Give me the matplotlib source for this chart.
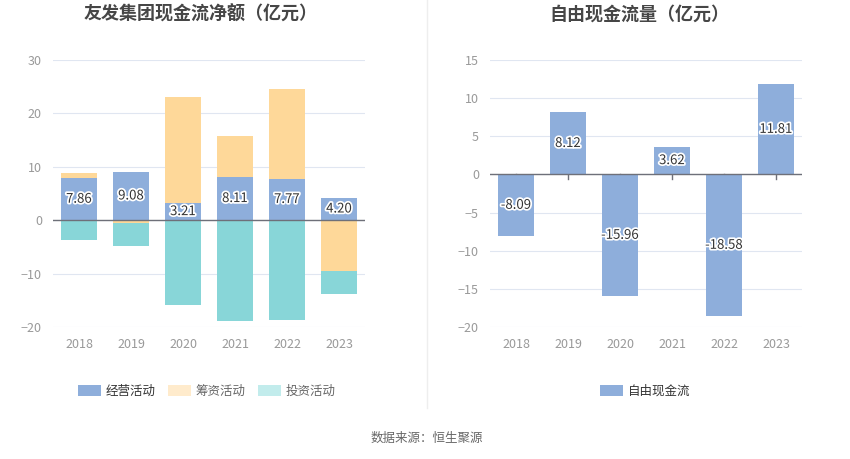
import matplotlib
matplotlib.use('Agg')
import matplotlib.pyplot as plt
import matplotlib.patheffects as pe
from matplotlib.patches import Patch
import numpy as np

plt.rcParams['font.family'] = ['Noto Sans CJK SC', 'DejaVu Sans']

# ===== DADOS =====
years = ['2018', '2019', '2020', '2021', '2022', '2023']
operating = [7.86, 9.08, 3.21, 8.11, 7.77, 4.20]
financing = [0.90, -0.50, 19.90, 7.64, 16.86, -9.56]
investing = [-3.75, -4.38, -15.94, -18.94, -18.75, -4.25]
free_cf = [-8.09, 8.12, -15.96, 3.62, -18.58, 11.81]

c_op = '#8eaedb'
c_fin = '#fed899'
c_inv = '#88d6d8'
c_grid = '#e0e6f1'
c_tick = '#999999'

fig = plt.figure(figsize=(8.5, 4.59), dpi=100)
ax1 = fig.add_axes([53/850, 1 - 327/459, 312/850, 267/459])
ax2 = fig.add_axes([490/850, 1 - 327/459, 312/850, 267/459])

x = np.arange(len(years))
w = 0.7
stroke = [pe.withStroke(linewidth=2.5, foreground='white')]


def style_axis(ax, ylim, ticks):
    ax.set_xlim(-0.5, len(years) - 0.5)
    ax.set_ylim(*ylim)
    ax.set_yticks(ticks)
    ax.set_xticks(x)
    ax.set_xticklabels(years)
    for s in ax.spines.values():
        s.set_visible(False)
    ax.grid(axis='y', color=c_grid, linewidth=0.8)
    ax.set_axisbelow(True)
    ax.tick_params(axis='y', length=0, colors=c_tick, labelsize=9, pad=8)
    ax.tick_params(axis='x', length=0, colors=c_tick, labelsize=9, pad=8)
    ax.axhline(0, color='#6e7079', linewidth=1, zorder=3)


# ===== ESQUERDA: fluxo de caixa empilhado =====
op = np.array(operating)
fin = np.array(financing)
inv = np.array(investing)
series = [op, fin, inv]
colors = [c_op, c_fin, c_inv]
pos_base = np.zeros(len(years))
neg_base = np.zeros(len(years))
for vals, col in zip(series, colors):
    bottom = np.where(vals >= 0, pos_base, neg_base)
    ax1.bar(x, vals, w, bottom=bottom, color=col, zorder=2)
    pos_base = pos_base + np.where(vals >= 0, vals, 0)
    neg_base = neg_base + np.where(vals < 0, vals, 0)

for xi, v in zip(x, operating):
    ax1.text(xi, v / 2, f'{v:.2f}', ha='center', va='center', fontsize=9.5,
             color='#333333', path_effects=stroke, zorder=4)

style_axis(ax1, (-20, 30), [-20, -10, 0, 10, 20, 30])

# ===== DIREITA: fluxo de caixa livre =====
ax2.bar(x, free_cf, w, color=c_op, zorder=2)
for xi, v in zip(x, free_cf):
    ax2.text(xi, v / 2, f'{v:.2f}', ha='center', va='center', fontsize=9.5,
             color='#333333', path_effects=stroke, zorder=4)
style_axis(ax2, (-20, 15), [-20, -15, -10, -5, 0, 5, 10, 15])
for xi in x:
    ax2.plot([xi, xi], [0, -0.6], color='#6e7079', linewidth=1, zorder=1)

# ===== TITULOS / LEGENDAS =====
fig.text(201/850, 1 - 14/459, '友发集团现金流净额（亿元）', ha='center', va='center',
         fontsize=13, fontweight='bold', color='#464646')
fig.text(639/850, 1 - 14/459, '自由现金流量（亿元）', ha='center', va='center',
         fontsize=13, fontweight='bold', color='#464646')

handles = [Patch(facecolor=c_op, edgecolor='none', label='经营活动'),
           Patch(facecolor='#ffebcc', edgecolor='none', label='筹资活动'),
           Patch(facecolor='#c2ecec', edgecolor='none', label='投资活动')]
leg1 = fig.legend(handles=handles, loc='center', bbox_to_anchor=(207/850, 1 - 391/459),
                  ncol=3, frameon=False, fontsize=9, handlelength=1.8, handleheight=1.0,
                  columnspacing=1.0, handletextpad=0.4)
for t in leg1.get_texts():
    t.set_color('#666666')
leg1.get_texts()[0].set_color('#333333')

leg2 = fig.legend(handles=[Patch(facecolor=c_op, edgecolor='none', label='自由现金流')],
                  loc='center', bbox_to_anchor=(645/850, 1 - 391/459), frameon=False,
                  fontsize=9, handlelength=1.8, handleheight=1.0, handletextpad=0.4)
leg2.get_texts()[0].set_color('#333333')

fig.add_artist(plt.Line2D([427/850, 427/850], [1 - 408/459, 1.0], color='#eeeeee',
                          linewidth=1, transform=fig.transFigure))

fig.text(427/850, 1 - 438/459, '数据来源：恒生聚源', ha='center', va='center',
         fontsize=9, color='#666666')

plt.savefig('out.png', dpi=100)
